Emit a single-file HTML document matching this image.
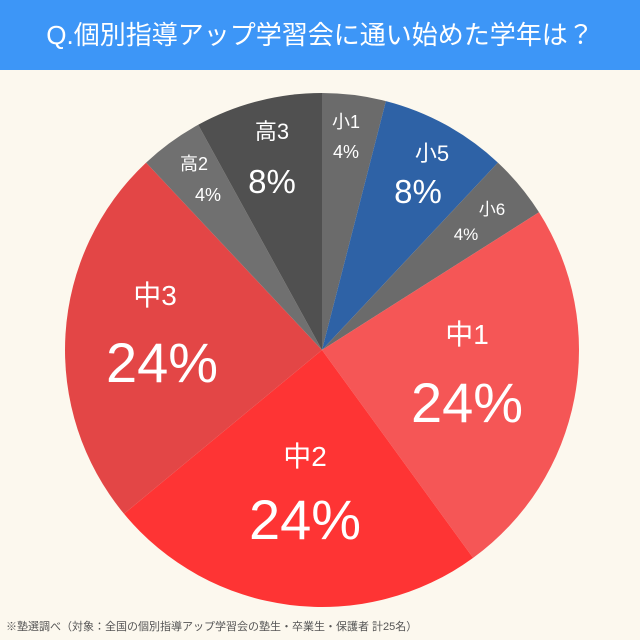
<!DOCTYPE html>
<html><head><meta charset="utf-8"><style>
body{margin:0;width:640px;height:640px;background:#fcf8ee;overflow:hidden;font-family:"Liberation Sans","Noto Sans CJK JP",sans-serif}
.h{position:absolute;left:0;top:0;width:640px;height:70px;background:#3d96f7;color:#fff;font-size:26px;line-height:70px;text-align:center}
</style></head><body>
<div class="h">Q.個別指導アップ学習会に通い始めた学年は？</div>
<svg width="640" height="640" style="position:absolute;left:0;top:0" font-family="Liberation Sans, Noto Sans CJK JP, sans-serif" fill="#fff" text-anchor="middle">
<g stroke="none">
<path d="M322,350 L322,93 A257,257 0 0 1 385.9,101.1Z" fill="#6b6b6b"/>
<path d="M322,350 L385.9,101.1 A257,257 0 0 1 497.9,162.6Z" fill="#2e62a6"/>
<path d="M322,350 L497.9,162.6 A257,257 0 0 1 539,212.3Z" fill="#6b6b6b"/>
<path d="M322,350 L539,212.3 A257,257 0 0 1 473.1,557.9Z" fill="#f55656"/>
<path d="M322,350 L473.1,557.9 A257,257 0 0 1 124,513.8Z" fill="#fe3434"/>
<path d="M322,350 L124,513.8 A257,257 0 0 1 146.1,162.6Z" fill="#e34646"/>
<path d="M322,350 L146.1,162.6 A257,257 0 0 1 198.2,124.8Z" fill="#707070"/>
<path d="M322,350 L198.2,124.8 A257,257 0 0 1 322,93Z" fill="#505050"/>
</g>
<text x="346" y="128" font-size="18">小1</text><text x="346" y="158" font-size="18">4%</text>
<text x="432" y="161" font-size="22">小5</text><text x="418" y="203" font-size="33">8%</text>
<text x="492" y="215" font-size="17">小6</text><text x="466" y="240" font-size="17">4%</text>
<text x="467" y="344" font-size="28">中1</text><text x="467" y="422" font-size="56">24%</text>
<text x="305" y="466" font-size="28">中2</text><text x="305" y="539" font-size="56">24%</text>
<text x="155" y="305" font-size="28">中3</text><text x="162" y="382" font-size="56">24%</text>
<text x="194" y="170" font-size="18">高2</text><text x="208" y="201" font-size="18">4%</text>
<text x="272" y="139" font-size="22">高3</text><text x="272" y="193" font-size="33">8%</text>
<text x="6" y="630" font-size="11" fill="#555" text-anchor="start">※塾選調べ（対象：全国の個別指導アップ学習会の塾生・卒業生・保護者 計25名）</text>
</svg>
</body></html>
